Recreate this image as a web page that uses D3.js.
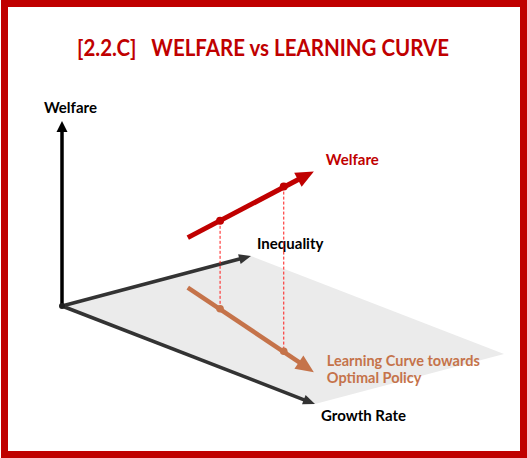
<!DOCTYPE html>
<html>
<head>
<meta charset="utf-8">
<script src="https://cdn.jsdelivr.net/npm/d3@7"></script>
<style>
  body { margin: 0; background: #fff; }
  svg { display: block; }
  text { font-family: Lato, "Open Sans", sans-serif; font-weight: bold; }
</style>
</head>
<body>
<svg id="js-svg" width="527" height="458"></svg>
<script>
// axis names: growth (x), inequality (y), welfare (z)
const axisNames = ["Growth Rate", "Inequality", "Welfare"];
const axisMax = 10;

// learning curve points (start, two marked points, arrow tip)
const curveGrowth = [0.9, 2.7, 6.3, 8.05];
const curveInequality = [5.45, 4.75, 3.3, 2.55];
const curveWelfare = [2.7, 4.75, 8.9, 10.85];
const markedPoints = [1, 2];

const titleText = "[2.2.C]   WELFARE vs LEARNING CURVE";
const welfareLabel = "Welfare";
const curveLabel = ["Learning Curve towards", "Optimal Policy"];

const RED = "#c00000";
const ORANGE = "#c5734a";

const svg = d3.select("#js-svg");
const origin = [62, 306];

// oblique projection built from linear scales
const gX = d3.scaleLinear().domain([0, axisMax]).range([0, 253]);
const gY = d3.scaleLinear().domain([0, axisMax]).range([0, 98]);
const iX = d3.scaleLinear().domain([0, axisMax]).range([0, 189]);
const iY = d3.scaleLinear().domain([0, axisMax]).range([0, -50]);
const wY = d3.scaleLinear().domain([0, axisMax]).range([0, -185]);

const project = (g, i, w) => [
  origin[0] + gX(g) + iX(i),
  origin[1] + gY(g) + iY(i) + wY(w),
];

const drawArrow = (parent, from, to, color, width, headLen, headHalf) => {
  const dx = to[0] - from[0], dy = to[1] - from[1];
  const len = Math.hypot(dx, dy);
  const ux = dx / len, uy = dy / len;
  const base = [to[0] - ux * headLen, to[1] - uy * headLen];
  parent.append("line")
    .attr("x1", from[0]).attr("y1", from[1])
    .attr("x2", base[0] + ux * 1).attr("y2", base[1] + uy * 1)
    .attr("stroke", color).attr("stroke-width", width);
  parent.append("path")
    .attr("d", d3.line()([
      to,
      [base[0] - uy * headHalf, base[1] + ux * headHalf],
      [base[0] + uy * headHalf, base[1] - ux * headHalf],
    ]) + "Z")
    .attr("fill", color);
};

// frame
svg.append("rect")
  .attr("x", 4.5).attr("y", 3.5)
  .attr("width", 519).attr("height", 451)
  .attr("fill", "#fff").attr("stroke", RED).attr("stroke-width", 7);

// title
svg.append("text")
  .attr("x", 77).attr("y", 56)
  .attr("font-size", 22)
  .attr("fill", RED)
  .attr("xml:space", "preserve")
  .attr("textLength", 372)
  .attr("lengthAdjust", "spacingAndGlyphs")
  .text(titleText);

// ground plane
svg.append("path")
  .attr("d", d3.line()([
    project(0, 0, 0), project(axisMax, 0, 0),
    project(axisMax, axisMax, 0), project(0, axisMax, 0),
  ]) + "Z")
  .attr("fill", "#ebebeb");

// axes
const axes = svg.append("g");
drawArrow(axes, origin, project(0, 0, axisMax), "#000", 3.5, 11, 5.5);
drawArrow(axes, origin, project(0, axisMax, 0), "#333", 3.5, 12, 5);
drawArrow(axes, origin, project(axisMax, 0, 0), "#333", 3.5, 12, 5);
axes.append("circle").attr("cx", origin[0]).attr("cy", origin[1]).attr("r", 3).attr("fill", "#222");

const axisLabelPos = [
  [project(axisMax, 0, 0), 6, 17],
  [project(0, axisMax, 0), 6, -7],
  [project(0, 0, axisMax), -18, -8],
];
axisNames.forEach((name, k) => {
  const [p, ox, oy] = axisLabelPos[k];
  svg.append("text")
    .attr("x", p[0] + ox).attr("y", p[1] + oy)
    .attr("font-size", 15).attr("fill", "#000")
    .text(name);
});

const groundPts = curveGrowth.map((g, k) => project(g, curveInequality[k], 0));
const highPts = curveGrowth.map((g, k) => project(g, curveInequality[k], curveWelfare[k]));
const last = curveGrowth.length - 1;

// drop lines
markedPoints.forEach((k) => {
  svg.append("line")
    .attr("x1", highPts[k][0]).attr("y1", highPts[k][1])
    .attr("x2", groundPts[k][0]).attr("y2", groundPts[k][1])
    .attr("stroke", "#ff1a1a").attr("stroke-width", 1)
    .attr("stroke-dasharray", "3,2");
});

// learning curve on plane
drawArrow(svg, groundPts[0], groundPts[last], ORANGE, 4.5, 18, 8);
markedPoints.forEach((k) => {
  svg.append("circle").attr("cx", groundPts[k][0]).attr("cy", groundPts[k][1])
    .attr("r", 3.8).attr("fill", ORANGE);
});

// welfare curve
drawArrow(svg, highPts[0], highPts[last], RED, 5, 18, 8);
markedPoints.forEach((k) => {
  svg.append("circle").attr("cx", highPts[k][0]).attr("cy", highPts[k][1])
    .attr("r", 4).attr("fill", RED);
});

svg.append("text")
  .attr("x", highPts[last][0] + 12).attr("y", highPts[last][1] - 6)
  .attr("font-size", 15).attr("fill", RED)
  .text(welfareLabel);

curveLabel.forEach((line, k) => {
  svg.append("text")
    .attr("x", groundPts[last][0] + 13)
    .attr("y", groundPts[last][1] - 6 + k * 17)
    .attr("font-size", 14.5).attr("fill", ORANGE)
    .text(line);
});
</script>
</body>
</html>
